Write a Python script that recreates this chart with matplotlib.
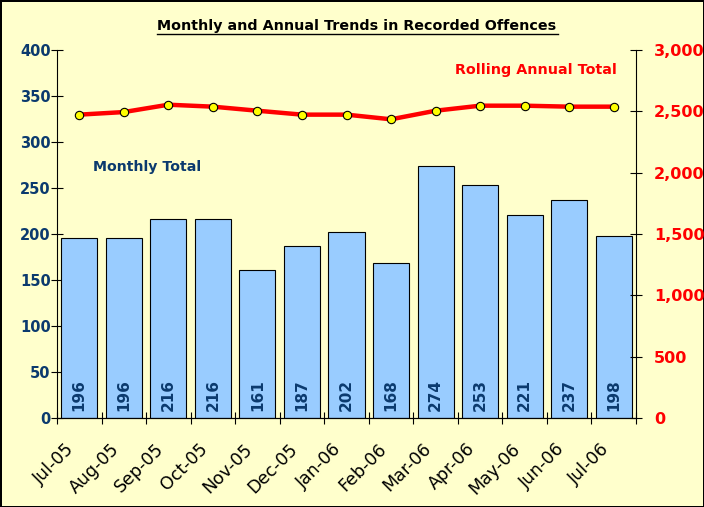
import matplotlib.pyplot as plt
import matplotlib.transforms as mtransforms
from matplotlib.ticker import FuncFormatter, FixedLocator

# meses y valores
meses = ['Jul-05', 'Aug-05', 'Sep-05', 'Oct-05', 'Nov-05', 'Dec-05', 'Jan-06',
         'Feb-06', 'Mar-06', 'Apr-06', 'May-06', 'Jun-06', 'Jul-06']
mensual = [196, 196, 216, 216, 161, 187, 202, 168, 274, 253, 221, 237, 198]
anual = [2473, 2494, 2554, 2538, 2505, 2473, 2473, 2435, 2505, 2546, 2546, 2538, 2538]

navy = '#0B3A6E'
fondo = '#FFFFCC'

fig = plt.figure(figsize=(7.04, 5.07), dpi=100, facecolor=fondo)
fig.patch.set_edgecolor('black')
fig.patch.set_linewidth(2)
ax = fig.add_axes([0.081, 0.1755, 0.8224, 0.7259])
ax.set_facecolor(fondo)

x = list(range(len(meses)))
ax.bar(x, mensual, width=0.81, color='#99CCFF', edgecolor='black', linewidth=0.8, zorder=2)
for i, v in zip(x, mensual):
    ax.text(i, 8, str(v), rotation=90, ha='center', va='bottom',
            color=navy, fontsize=11, fontweight='bold', zorder=3)

ax.set_xlim(-0.5, len(meses) - 0.5)
ax.set_ylim(0, 400)
ax.set_yticks(range(0, 401, 50))
ax.tick_params(axis='y', colors='black', labelcolor=navy, labelsize=10.5,
               direction='inout', length=8, width=0.8, pad=0.5)
for t in ax.get_yticklabels():
    t.set_fontweight('bold')

# marcas entre categorias, etiquetas bajo cada mes
ax.xaxis.set_minor_locator(FixedLocator([i - 0.5 for i in range(len(meses) + 1)]))
ax.tick_params(axis='x', which='minor', direction='inout', length=8, width=0.8)
ax.tick_params(axis='x', which='major', length=0, labelsize=12.5)
ax.set_xticks(x)
ax.set_xticklabels(meses, rotation=45, ha='right', rotation_mode='anchor')
offset = mtransforms.ScaledTranslation(-14 / 100, -17 / 100, fig.dpi_scale_trans)
for t in ax.get_xticklabels():
    t.set_transform(t.get_transform() + offset)

ax.spines['top'].set_visible(False)
ax.spines['right'].set_visible(False)

ax2 = ax.twinx()
ax2.plot(x, anual, color='red', linewidth=3.2, marker='o', markersize=6,
         markerfacecolor='yellow', markeredgecolor='black', markeredgewidth=0.8, zorder=4)
ax2.set_ylim(0, 3000)
ax2.set_yticks(range(0, 3001, 500))
ax2.yaxis.set_major_formatter(FuncFormatter(lambda v, p: f'{int(v):,}'))
ax2.tick_params(axis='y', labelsize=11.5, direction='inout', length=8, width=0.8,
                labelcolor='red', pad=9)
for t in ax2.get_yticklabels():
    t.set_fontweight('bold')
ax2.spines['top'].set_visible(False)
ax2.spines['left'].set_visible(False)

ax.set_zorder(ax2.get_zorder() - 1)
ax2.patch.set_visible(False)

fig.text(0.507, 1 - 26 / 507, 'Monthly and Annual Trends in Recorded Offences', ha='center',
         va='center', fontsize=10.3, fontweight='bold')
# subrayado del titulo
fig.add_artist(plt.Line2D([157 / 704, 558 / 704], [1 - 33.5 / 507, 1 - 33.5 / 507],
                          color='black', linewidth=1))

fig.text(93 / 704, 1 - 167 / 507, 'Monthly Total', color=navy, va='center',
         fontsize=10.2, fontweight='bold')
fig.text(455 / 704, 1 - 70 / 507, 'Rolling Annual Total', color='red', va='center',
         fontsize=10.3, fontweight='bold')

fig.savefig('out.png', dpi=100, facecolor=fondo, edgecolor='black')
